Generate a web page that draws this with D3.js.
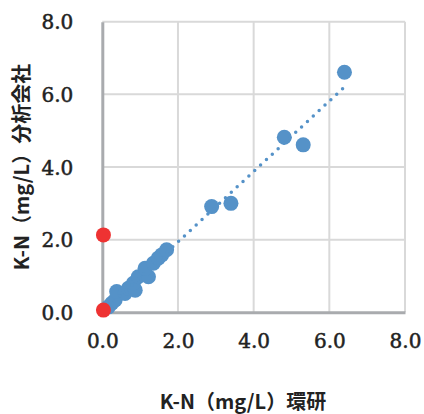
<!DOCTYPE html>
<html><head><meta charset="utf-8">
<script src="https://cdn.jsdelivr.net/npm/d3@7"></script>
<style>body{margin:0;background:#fff}</style>
</head><body>
<svg id="c" width="424" height="414"></svg>
<script>
const ticks = [0, 2, 4, 6, 8];
const tickLabels = ["0.0", "2.0", "4.0", "6.0", "8.0"];
const blueX = [0.16, 0.25, 0.34, 0.38, 0.60, 0.69, 0.87, 0.82, 0.95, 1.22, 1.13, 1.35, 1.48, 1.57, 1.70, 2.89, 3.40, 4.81, 5.31, 6.40];
const blueY = [0.15, 0.25, 0.34, 0.57, 0.52, 0.66, 0.61, 0.80, 0.98, 0.98, 1.21, 1.35, 1.49, 1.58, 1.72, 2.91, 3.00, 4.82, 4.61, 6.61];
const redX = [0.03, 0.03];
const redY = [2.13, 0.06];
const xTitle = "K-N（mg/L）環研";
const yTitle = "K-N（mg/L）分析会社";

const svg = d3.select("#c");
const x = d3.scaleLinear().domain([0, 8]).range([102.3, 405]);
const y = d3.scaleLinear().domain([0, 8]).range([312.3, 21.7]);

// gridlines
svg.append("g").selectAll("line.v").data(ticks.slice(1)).join("line")
  .attr("x1", d => x(d)).attr("x2", d => x(d)).attr("y1", y(0)).attr("y2", y(8))
  .attr("stroke", "#d9d9d9").attr("stroke-width", 2);
svg.append("g").selectAll("line.h").data(ticks.slice(1)).join("line")
  .attr("y1", d => y(d)).attr("y2", d => y(d)).attr("x1", x(0)).attr("x2", x(8))
  .attr("stroke", "#d9d9d9").attr("stroke-width", 2);

// axes
const xAxis = d3.axisBottom(x).tickValues(ticks).tickFormat((d, i) => tickLabels[i]).tickSize(0).tickPadding(22);
const yAxis = d3.axisLeft(y).tickValues(ticks).tickFormat((d, i) => tickLabels[i]).tickSize(0).tickPadding(29);
const gx = svg.append("g").attr("transform", `translate(0,${y(0)})`).call(xAxis);
const gy = svg.append("g").attr("transform", `translate(${x(0)},0)`).call(yAxis);
[gx, gy].forEach(g => {
  g.select(".domain").attr("stroke", "#a9abae").attr("stroke-width", 3);
  g.selectAll("text").attr("font-family", "DejaVu Serif").attr("font-size", 20)
    .attr("fill", "#222").attr("stroke", "#222").attr("stroke-width", 0.5);
});
gx.selectAll("text").attr("dy", "0.71em");
gy.selectAll("text").attr("dy", "0.36em");

// trendline (linear regression on blue series)
const n = blueX.length;
const mx = d3.mean(blueX), my = d3.mean(blueY);
let sxy = 0, sxx = 0;
for (let i = 0; i < n; i++) { sxy += (blueX[i]-mx)*(blueY[i]-my); sxx += (blueX[i]-mx)**2; }
const slope = sxy / sxx, icpt = my - slope * mx;
const x0 = d3.min(blueX), x1 = d3.max(blueX);

// points
const blue = blueX.map((v, i) => [v, blueY[i]]);
svg.append("g").selectAll("circle").data(blue).join("circle")
  .attr("cx", d => x(d[0])).attr("cy", d => y(d[1])).attr("r", 7.5).attr("fill", "#5592c8");
svg.append("line")
  .attr("x1", x(x0)).attr("y1", y(slope*x0+icpt)).attr("x2", x(x1)).attr("y2", y(slope*x1+icpt))
  .attr("stroke", "#5592c8").attr("stroke-width", 3.5).attr("stroke-linecap", "round")
  .attr("stroke-dasharray", "0 8");
const red = redX.map((v, i) => [v, redY[i]]);
svg.append("g").selectAll("circle").data(red).join("circle")
  .attr("cx", d => x(d[0])).attr("cy", d => y(d[1])).attr("r", 7.5).attr("fill", "#ee3232");

// titles
svg.append("text").attr("x", 243).attr("y", 409).attr("text-anchor", "middle")
  .attr("font-family", "Noto Sans CJK JP").attr("font-weight", "bold").attr("font-size", 20).attr("fill", "#222")
  .text(xTitle);
svg.append("text").attr("transform", `translate(29,${(y(0)+y(8))/2}) rotate(-90)`).attr("text-anchor", "middle")
  .attr("font-family", "Noto Sans CJK JP").attr("font-weight", "bold").attr("font-size", 20).attr("fill", "#222")
  .text(yTitle);
</script>
</body></html>
